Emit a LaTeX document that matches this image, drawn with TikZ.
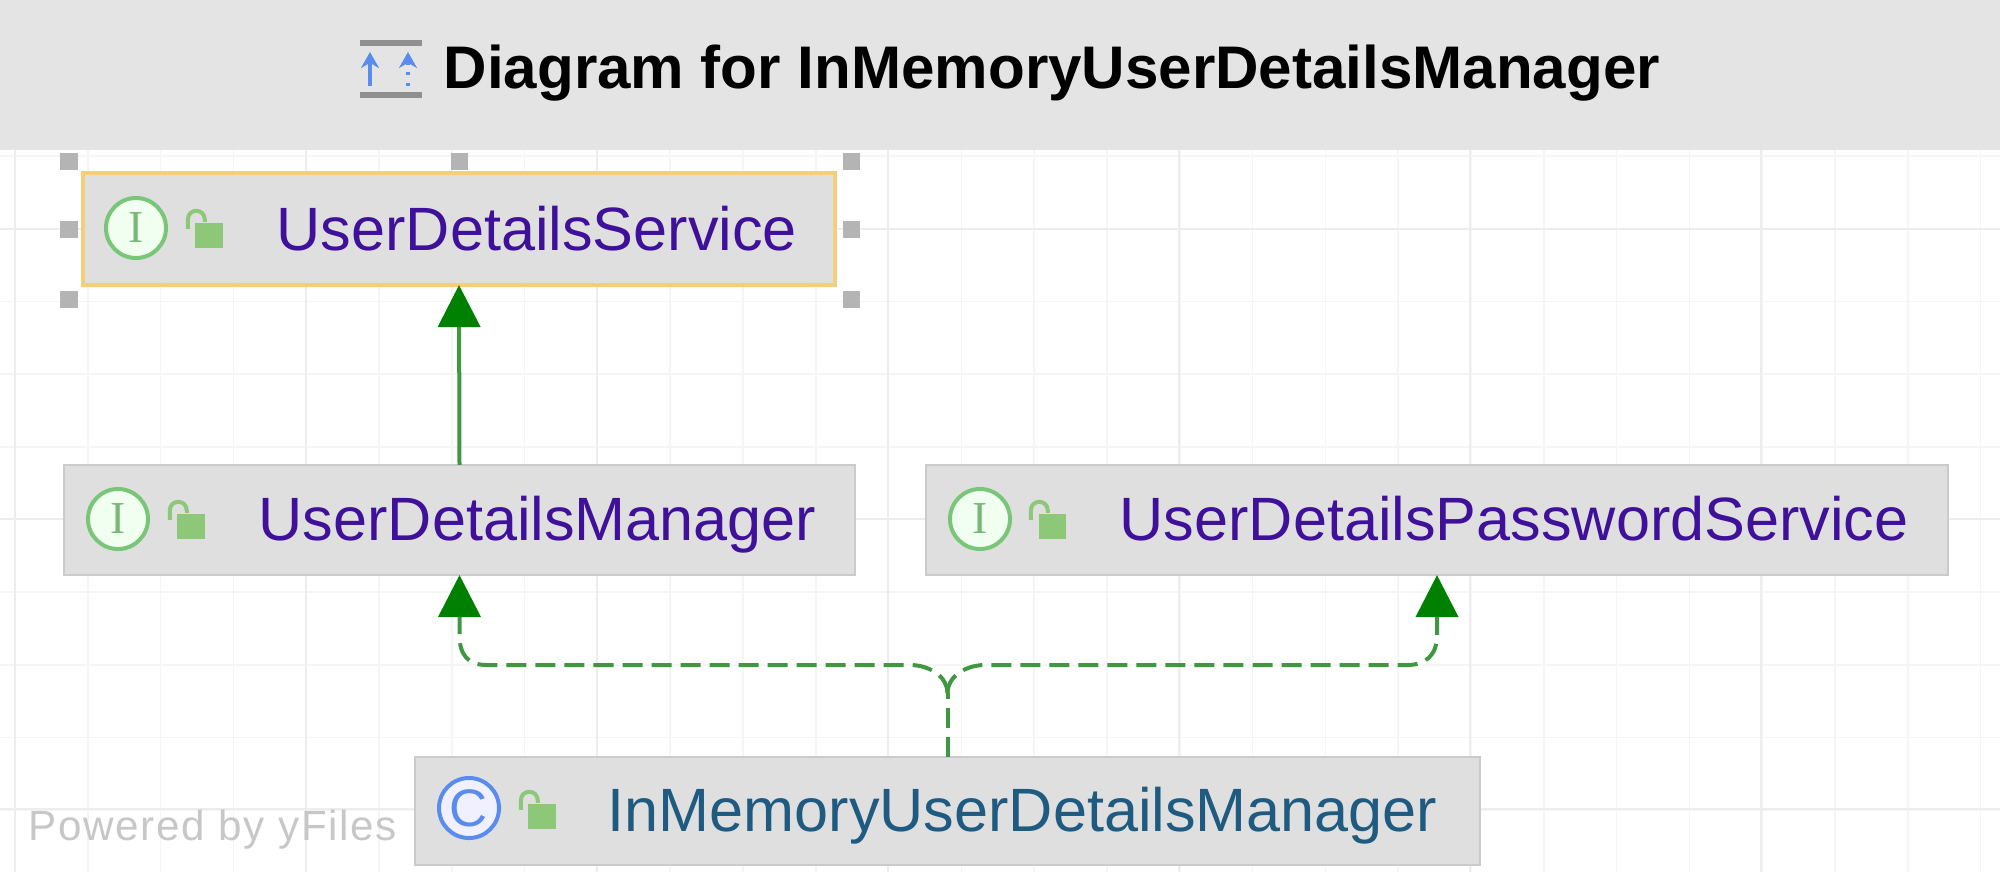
\documentclass[tikz,border=0pt]{standalone}
\usepackage{fontspec}
\usetikzlibrary{arrows.meta}
\setmainfont{Liberation Sans}
\newfontfamily\iconfont{Liberation Serif}
\definecolor{barfill}{HTML}{E4E4E4}
\definecolor{boxfill}{HTML}{DFDFDF}
\definecolor{boxline}{HTML}{CBCBCB}
\definecolor{pickline}{HTML}{F2CF78}
\definecolor{handlegray}{HTML}{B4B4B4}
\definecolor{gridmajor}{HTML}{EDEDED}
\definecolor{gridminor}{HTML}{F5F5F5}
\definecolor{ifacetext}{HTML}{3F109A}
\definecolor{classtext}{HTML}{1F5A80}
\definecolor{lockgreen}{HTML}{8CC878}
\definecolor{edgegreen}{HTML}{3F983F}
\definecolor{tipgreen}{HTML}{008000}
\definecolor{iconblue}{HTML}{5A8CEE}
\begin{document}
\begin{tikzpicture}[x=0.01cm,y=-0.01cm,
		classbox/.style={draw=boxline,line width=0.02cm,fill=boxfill,minimum height=1.1cm,inner sep=0pt,outer sep=0pt},
		picked/.style={draw=pickline,line width=0.035cm},
		iface/.style={anchor=base west,inner sep=0pt,text=ifacetext,font=\fontsize{17.4}{20}\selectfont},
		impl/.style={iface,text=classtext},
		iicon/.style={circle,draw=green!40!gray!75,line width=0.04cm,fill=green!6,minimum size=0.6cm,inner sep=0pt,text=green!30!gray!80,font=\iconfont\fontsize{13}{14}\selectfont},
		cicon/.style={iicon,draw=iconblue,fill=blue!6,text=iconblue,font=\fontsize{15}{16}\selectfont},
		lock/.style={fill=lockgreen,minimum width=0.27cm,minimum height=0.25cm,inner sep=0pt},
		shackle/.style={draw=lockgreen,line width=0.04cm},
		handle/.style={fill=handlegray,minimum size=0.17cm,inner sep=0pt},
		realize/.style={draw=edgegreen,line width=0.04cm},
		depend/.style={realize,dash pattern=on 0.2cm off 0.09cm},
		tip/.style={-{Triangle[length=0.42cm,width=0.42cm,color=tipgreen]}}]
	\useasboundingbox (0,0) rectangle (2000,872);
	% grid
	\foreach \i in {-2,...,28}
		\draw[gridminor,line width=0.015cm] ({15+72.8*\i},150) -- ({15+72.8*\i},872);
	\foreach \j in {-1,...,9}
		\draw[gridminor,line width=0.015cm] (0,{156+72.7*\j}) -- (2000,{156+72.7*\j});
	\foreach \i in {0,...,6}
		\draw[gridmajor,line width=0.025cm] ({15+291*\i},150) -- ({15+291*\i},872);
	\foreach \j in {229,519,809}
		\draw[gridmajor,line width=0.025cm] (0,\j) -- (2000,\j);
	% title bar
	\fill[barfill] (0,0) rectangle (2000,150);
	\node[anchor=base west,inner sep=0pt,font=\bfseries\fontsize{17.1}{20}\selectfont] (title) at (443,88) {Diagram for InMemoryUserDetailsManager};
	\draw[handlegray!80!black,line width=0.06cm] (360,43) -- (422,43) (360,95) -- (422,95);
	\draw[-{Stealth[length=0.16cm,width=0.18cm]},iconblue,line width=0.035cm] (370,86) -- (370,52);
	\draw[-{Stealth[length=0.16cm,width=0.18cm]},iconblue,line width=0.035cm,dotted] (408,86) -- (408,52);
	% selection handles
	\foreach \hx/\hy [count=\n] in {69/161,459/161,851/161,69/229,851/229,69/299,851/299}
		\node[handle] (h\n) at (\hx,\hy) {};
	% classes
	\node[classbox,picked,minimum width=7.52cm,minimum height=1.12cm] (uds) at (459,229) {};
	\node[classbox,minimum width=7.91cm] (udm) at (459.5,520) {};
	\node[classbox,minimum width=10.22cm] (udp) at (1437,520) {};
	\node[classbox,minimum width=10.65cm,minimum height=1.08cm] (imm) at (947.5,811) {};
	\node[iicon] (udsi) at (136,228) {I};
	\node[iicon] (udmi) at (118,519) {I};
	\node[iicon] (udpi) at (980,519) {I};
	\node[cicon] (immi) at (469,808) {C};
	\node[lock] (udsl) at (209,235) {};
	\node[lock] (udml) at (191,526) {};
	\node[lock] (udpl) at (1052,526) {};
	\node[lock] (imml) at (542,816) {};
	\foreach \lk in {udsl,udml,udpl,imml}
		\draw[shackle] ([xshift=0.1cm]\lk.north west) -- ++(0,-2) .. controls +(0,-12) and +(0,-12) .. ++(-17,0) -- ++(0,9);
	\node[iface] (udst) at (276,250) {UserDetailsService};
	\node[iface] (udmt) at (258,540) {UserDetailsManager};
	\node[iface] (udpt) at (1119,540) {UserDetailsPasswordService};
	\node[impl] (immt) at (607,831) {InMemoryUserDetailsManager};
	\node[anchor=base west,inner sep=0pt,text=black!22,font=\addfontfeature{LetterSpace=4}\fontsize{12}{14}\selectfont] (yfiles) at (28,840) {Powered by yFiles};
	% edges
	\coordinate (fork) at (947.5,693);
	\coordinate (forkl) at (912,665);
	\coordinate (forkr) at (983,665);
	\coordinate (bendl) at (487,665);
	\coordinate (bendr) at (1407,665);
	\draw[realize,tip] (udm.north) -- (uds.south);
	\draw[depend] (imm.north) -- (fork);
	\draw[depend,tip] (fork) .. controls (947.5,678) and (932,666) .. (forkl) -- (bendl) .. controls (468,665) and (459.5,655) .. (459.5,635) -- (udm.south);
	\draw[depend,tip] (fork) .. controls (947.5,678) and (963,666) .. (forkr) -- (bendr) .. controls (1426,665) and (1437,655) .. (1437,635) -- (udp.south);
\end{tikzpicture}
\end{document}
